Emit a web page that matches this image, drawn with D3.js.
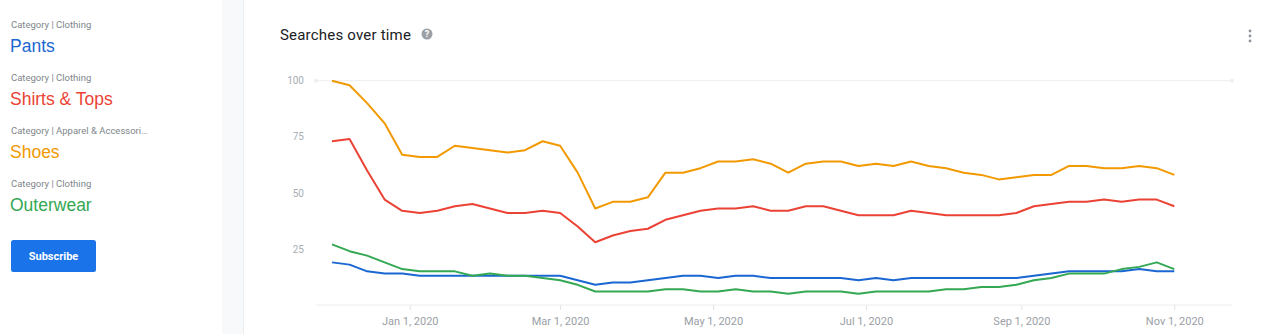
<!DOCTYPE html>
<html>
<head>
<meta charset="utf-8">
<script src="https://cdn.jsdelivr.net/npm/d3@7"></script>
<style>
  html, body { margin: 0; padding: 0; background: #fff; }
  body { width: 1286px; height: 334px; overflow: hidden; font-family: Roboto, Arial, sans-serif; }
  svg { display: block; }
</style>
</head>
<body>
<svg id="chart" width="1286" height="334"></svg>
<script>
// Weekly points, Sunday-starting weeks
const firstWeek = new Date(2019, 11, 1);
const lastWeek = new Date(2020, 10, 1);

const seriesNames = ["Pants", "Shirts & Tops", "Shoes", "Outerwear"];
const seriesCategories = ["Category | Clothing", "Category | Clothing", "Category | Apparel & Accessori…", "Category | Clothing"];
const seriesColors = ["#1a67d2", "#ea4335", "#f29900", "#34a853"];

const pants = [19, 18, 15, 14, 14, 13, 13, 13, 13, 13, 13, 13, 13, 13, 11, 9, 10, 10, 11, 12, 13, 13, 12, 13, 13, 12, 12, 12, 12, 12, 11, 12, 11, 12, 12, 12, 12, 12, 12, 12, 13, 14, 15, 15, 15, 15, 16, 15, 15];
const shirtsTops = [73, 74, 60, 47, 42, 41, 42, 44, 45, 43, 41, 41, 42, 41, 35, 28, 31, 33, 34, 38, 40, 42, 43, 43, 44, 42, 42, 44, 44, 42, 40, 40, 40, 42, 41, 40, 40, 40, 40, 41, 44, 45, 46, 46, 47, 46, 47, 47, 44];
const shoes = [100, 98, 90, 81, 67, 66, 66, 71, 70, 69, 68, 69, 73, 71, 59, 43, 46, 46, 48, 59, 59, 61, 64, 64, 65, 63, 59, 63, 64, 64, 62, 63, 62, 64, 62, 61, 59, 58, 56, 57, 58, 58, 62, 62, 61, 61, 62, 61, 58];
const outerwear = [27, 24, 22, 19, 16, 15, 15, 15, 13, 14, 13, 13, 12, 11, 9, 6, 6, 6, 6, 7, 7, 6, 6, 7, 6, 6, 5, 6, 6, 6, 5, 6, 6, 6, 6, 7, 7, 8, 8, 9, 11, 12, 14, 14, 14, 16, 17, 19, 16];

const yTickValues = [25, 50, 75, 100];
const xTickDates = [new Date(2020, 0, 1), new Date(2020, 2, 1), new Date(2020, 4, 1), new Date(2020, 6, 1), new Date(2020, 8, 1), new Date(2020, 10, 1)];

const seriesValues = [pants, shirtsTops, shoes, outerwear];
const weeks = d3.timeWeek.range(firstWeek, d3.timeDay.offset(lastWeek, 1));

const svg = d3.select("#chart");

// Left panel: series list and subscribe button
const side = svg.append("g");
seriesNames.forEach((name, i) => {
  const top = 24 + i * 53;
  side.append("text")
    .attr("x", 11).attr("y", top + 3.5)
    .attr("font-size", 9.5).attr("fill", "#80868b")
    .text(seriesCategories[i]);
  side.append("text")
    .attr("x", 10).attr("y", top + 28)
    .attr("font-family", "Arial, 'Liberation Sans', sans-serif")
    .attr("font-size", 17.5).attr("fill", seriesColors[i])
    .text(name);
});
side.append("rect")
  .attr("x", 11).attr("y", 240).attr("width", 85).attr("height", 32)
  .attr("rx", 2.5).attr("fill", "#1a73e8");
side.append("text")
  .attr("x", 53.5).attr("y", 260)
  .attr("text-anchor", "middle").attr("font-size", 11).attr("font-weight", 700)
  .attr("fill", "#fff").text("Subscribe");

// Page gutter between panel and card
svg.append("rect").attr("x", 222).attr("y", 0).attr("width", 21).attr("height", 334).attr("fill", "#f8f9fa");
svg.append("line").attr("x1", 243.5).attr("x2", 243.5).attr("y1", 0).attr("y2", 334).attr("stroke", "#eceff1");

// Card header
svg.append("text")
  .attr("x", 280).attr("y", 40)
  .attr("font-size", 15).attr("fill", "#202124").attr("letter-spacing", 0.2)
  .text("Searches over time");
const help = svg.append("g").attr("transform", "translate(427,34)");
help.append("circle").attr("r", 5.5).attr("fill", "#9aa0a6");
help.append("text").attr("y", 3.3).attr("text-anchor", "middle")
  .attr("font-size", 9).attr("font-weight", 700).attr("fill", "#fff").text("?");
[31, 36, 41].forEach(cy => {
  svg.append("circle").attr("cx", 1250).attr("cy", cy).attr("r", 1.4).attr("fill", "#8d939a");
});

// Scales
const plotLeft = 316, plotRight = 1232;
const x = d3.scaleTime().domain([firstWeek, lastWeek]).range([332, 1174.3]);
const y = d3.scaleLinear().domain([0, 100]).range([305, 80.7]);

// Frame lines: top gridline at 100 and baseline at 0
const frame = svg.append("g");
[100, 0].forEach(v => {
  frame.append("line")
    .attr("x1", plotLeft).attr("x2", plotRight)
    .attr("y1", y(v)).attr("y2", y(v))
    .attr("stroke", "#eeeeee").attr("stroke-width", 1);
});
[plotLeft, plotRight].forEach(cx => {
  frame.append("circle").attr("cx", cx).attr("cy", y(100)).attr("r", 2).attr("fill", "#eeeeee");
});

// Y axis labels
const yAxis = d3.axisLeft(y).tickValues(yTickValues).tickSize(0).tickPadding(0);
svg.append("g")
  .attr("transform", "translate(304,0)")
  .call(yAxis)
  .call(g => g.select(".domain").remove())
  .call(g => g.selectAll("text")
    .attr("font-family", "Roboto, Arial, sans-serif")
    .attr("font-size", 10).attr("fill", "#a8adb3"));

// X axis
const xAxis = d3.axisBottom(x).tickValues(xTickDates).tickSize(5).tickPadding(7)
  .tickFormat(d3.timeFormat("%b %-d, %Y"));
svg.append("g")
  .attr("transform", `translate(0,${y(0)})`)
  .call(xAxis)
  .call(g => g.select(".domain").remove())
  .call(g => g.selectAll(".tick line").attr("stroke", "#e3e3e3"))
  .call(g => g.selectAll("text")
    .attr("font-family", "Roboto, Arial, sans-serif")
    .attr("font-size", 11).attr("fill", "#9aa0a6"));

// Series lines
const line = d3.line()
  .x((d, i) => x(weeks[i]))
  .y(d => y(d));

svg.append("g")
  .selectAll("path")
  .data(seriesValues)
  .join("path")
  .attr("d", line)
  .attr("fill", "none")
  .attr("stroke", (d, i) => seriesColors[i])
  .attr("stroke-width", 2)
  .attr("stroke-linejoin", "round");
</script>
</body>
</html>
